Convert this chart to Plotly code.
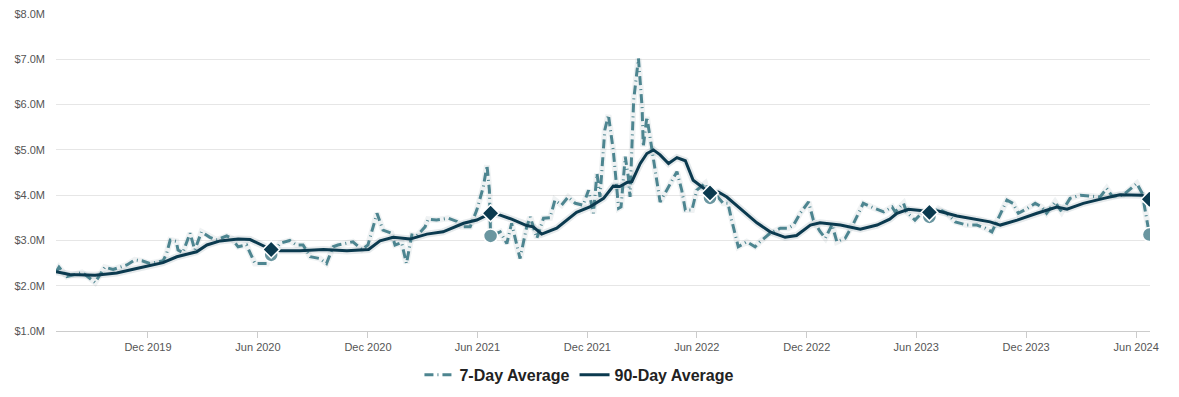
import plotly.graph_objects as go

# ---- data ----
d7_dates = [
    "2019-07-01", "2019-07-06", "2019-07-19", "2019-08-13", "2019-08-21", "2019-09-04",
    "2019-09-20", "2019-10-04", "2019-10-27", "2019-11-09", "2019-11-21", "2019-12-04",
    "2019-12-26", "2020-01-01", "2020-01-07", "2020-01-17", "2020-01-20", "2020-01-28",
    "2020-02-09", "2020-02-17", "2020-02-28", "2020-03-13", "2020-03-24", "2020-04-10",
    "2020-04-18", "2020-04-29", "2020-05-13", "2020-05-27", "2020-06-16", "2020-06-23",
    "2020-07-08", "2020-07-24", "2020-08-04", "2020-08-15", "2020-08-27", "2020-09-12",
    "2020-09-23", "2020-10-04", "2020-10-12", "2020-11-06", "2020-11-21", "2020-12-01",
    "2020-12-16", "2020-12-26", "2021-01-09", "2021-01-15", "2021-01-26", "2021-02-03",
    "2021-02-12", "2021-02-20", "2021-03-06", "2021-03-11", "2021-03-25", "2021-04-14",
    "2021-04-28", "2021-05-06", "2021-05-20", "2021-05-31", "2021-06-11", "2021-06-17",
    "2021-06-21", "2021-06-23", "2021-07-09", "2021-07-20", "2021-07-28", "2021-08-06",
    "2021-08-11", "2021-08-22", "2021-08-28", "2021-09-08", "2021-09-19", "2021-09-30",
    "2021-10-08", "2021-10-19", "2021-10-30", "2021-11-11", "2021-11-24", "2021-12-03",
    "2021-12-11", "2021-12-17", "2021-12-22", "2021-12-30", "2022-01-05", "2022-01-13",
    "2022-01-19", "2022-01-22", "2022-01-26", "2022-02-02", "2022-02-07", "2022-02-10",
    "2022-02-16", "2022-02-24", "2022-03-02", "2022-03-04", "2022-03-10", "2022-03-15",
    "2022-03-21", "2022-04-01", "2022-04-12", "2022-04-29", "2022-05-07", "2022-05-13",
    "2022-05-24", "2022-06-01", "2022-06-15", "2022-06-23", "2022-07-01", "2022-07-15",
    "2022-07-23", "2022-07-29", "2022-08-09", "2022-08-23", "2022-09-06", "2022-09-14",
    "2022-10-01", "2022-10-18", "2022-10-31", "2022-11-09", "2022-11-20", "2022-12-04",
    "2022-12-12", "2022-12-23", "2023-01-01", "2023-01-12", "2023-01-20", "2023-02-03",
    "2023-02-17", "2023-03-05", "2023-03-22", "2023-04-08", "2023-04-22", "2023-04-27",
    "2023-05-11", "2023-05-16", "2023-05-30", "2023-06-10", "2023-06-23", "2023-07-08",
    "2023-07-22", "2023-08-05", "2023-08-24", "2023-09-10", "2023-09-24", "2023-10-05",
    "2023-10-30", "2023-11-09", "2023-11-18", "2023-12-02", "2023-12-16", "2023-12-27",
    "2024-01-04", "2024-01-18", "2024-01-29", "2024-02-12", "2024-02-29", "2024-03-19",
    "2024-04-02", "2024-04-13", "2024-04-22", "2024-05-10", "2024-06-02", "2024-06-11",
    "2024-06-23",
]
d7_values = [
    2.30, 2.41, 2.20, 2.29, 2.22, 2.07,
    2.41, 2.36, 2.46, 2.57, 2.55, 2.49,
    2.55, 2.71, 3.01, 2.98, 2.79, 2.73,
    3.16, 2.79, 3.19, 3.07, 3.01, 3.10,
    3.05, 2.86, 2.90, 2.49, 2.49, 2.68,
    2.94, 3.00, 2.90, 2.90, 2.64, 2.60,
    2.49, 2.86, 2.90, 2.97, 2.80, 2.90,
    3.60, 3.23, 3.16, 2.90, 2.95, 2.49,
    3.12, 3.10, 3.30, 3.47, 3.45, 3.49,
    3.42, 3.30, 3.30, 3.67, 4.19, 4.66,
    4.11, 3.10, 3.19, 2.93, 3.38, 2.86,
    2.60, 3.30, 3.52, 3.05, 3.49, 3.50,
    3.89, 3.78, 3.96, 3.82, 3.78, 4.11,
    3.60, 4.48, 3.96, 5.44, 5.77, 5.00,
    4.11, 3.71, 3.74, 4.85, 4.41, 3.96,
    6.10, 7.02, 5.95, 5.07, 5.73, 5.29,
    4.77, 3.85, 4.11, 4.52, 4.11, 3.67,
    3.67, 4.11, 4.26, 3.94, 4.04, 3.82,
    3.82, 3.45, 2.86, 2.97, 2.86, 2.97,
    3.16, 3.27, 3.27, 3.34, 3.60, 3.85,
    3.45, 3.20, 3.05, 3.35, 2.97, 3.05,
    3.38, 3.82, 3.72, 3.63, 3.74, 3.63,
    3.82, 3.63, 3.45, 3.60, 3.52, 3.70,
    3.60, 3.41, 3.34, 3.34, 3.27, 3.19,
    3.89, 3.82, 3.60, 3.70, 3.82, 3.74,
    3.60, 3.85, 3.63, 3.93, 4.00, 3.98,
    3.96, 4.15, 3.98, 4.00, 4.26, 4.04,
    3.13,
]

d90_dates = [
    "2019-07-01", "2019-07-24", "2019-09-04", "2019-10-10", "2019-11-12", "2019-12-26",
    "2020-01-18", "2020-02-20", "2020-03-08", "2020-03-30", "2020-04-29", "2020-05-19",
    "2020-06-23", "2020-07-08", "2020-08-10", "2020-09-18", "2020-10-27", "2020-12-02",
    "2020-12-21", "2021-01-12", "2021-02-09", "2021-03-09", "2021-04-05", "2021-05-09",
    "2021-05-31", "2021-06-23", "2021-07-09", "2021-07-28", "2021-08-22", "2021-09-02",
    "2021-09-16", "2021-10-11", "2021-11-13", "2021-12-05", "2021-12-28", "2022-01-13",
    "2022-01-24", "2022-02-05", "2022-02-13", "2022-02-27", "2022-03-10", "2022-03-21",
    "2022-04-01", "2022-04-15", "2022-04-29", "2022-05-13", "2022-05-26", "2022-06-09",
    "2022-06-23", "2022-07-07", "2022-07-21", "2022-08-12", "2022-09-09", "2022-10-01",
    "2022-10-26", "2022-11-14", "2022-12-07", "2022-12-23", "2023-01-26", "2023-02-28",
    "2023-03-28", "2023-04-18", "2023-04-30", "2023-05-19", "2023-06-08", "2023-06-23",
    "2023-07-08", "2023-08-08", "2023-09-15", "2023-10-02", "2023-10-19", "2023-11-16",
    "2023-12-19", "2024-01-21", "2024-02-07", "2024-03-05", "2024-04-08", "2024-05-05",
    "2024-06-11", "2024-06-23",
]
d90_values = [
    2.31, 2.25, 2.23, 2.28, 2.38, 2.51,
    2.64, 2.75, 2.90, 2.99, 3.03, 3.02,
    2.80, 2.77, 2.77, 2.80, 2.77, 2.80,
    2.99, 3.07, 3.03, 3.14, 3.19, 3.38,
    3.45, 3.60, 3.56, 3.47, 3.33, 3.30,
    3.14, 3.27, 3.62, 3.74, 3.93, 4.20,
    4.19, 4.28, 4.30, 4.70, 4.92, 5.00,
    4.89, 4.70, 4.83, 4.76, 4.33, 4.19,
    4.05, 4.07, 3.96, 3.71, 3.39, 3.19,
    3.07, 3.11, 3.34, 3.39, 3.34, 3.25,
    3.34, 3.47, 3.60, 3.69, 3.66, 3.62,
    3.65, 3.54, 3.45, 3.41, 3.34, 3.45,
    3.60, 3.74, 3.69, 3.82, 3.93, 4.01,
    4.00, 3.91,
]

marker_dates = ["2020-06-23", "2021-06-23", "2022-06-23", "2023-06-23", "2024-06-23"]

tick_dates = ["2019-12-01", "2020-06-01", "2020-12-01", "2021-06-01", "2021-12-01",
              "2022-06-01", "2022-12-01", "2023-06-01", "2023-12-01", "2024-06-01"]
tick_labels = ["Dec 2019", "Jun 2020", "Dec 2020", "Jun 2021", "Dec 2021",
               "Jun 2022", "Dec 2022", "Jun 2023", "Dec 2023", "Jun 2024"]

# ---- styles ----
C7 = "#4d8590"
C7_MARK = "#6a96a0"
C90 = "#0b3a4f"
FONT = "Liberation Sans, Arial, sans-serif"

m7_vals = [d7_values[d7_dates.index(d)] for d in marker_dates]
m90_vals = [d90_values[d90_dates.index(d)] for d in marker_dates]

fig = go.Figure()

# soft shadows
fig.add_trace(go.Scatter(x=d7_dates, y=d7_values, mode="lines", hoverinfo="skip",
                         line=dict(color="rgba(30,70,80,0.07)", width=6),
                         showlegend=False))
fig.add_trace(go.Scatter(x=d90_dates, y=d90_values, mode="lines", hoverinfo="skip",
                         line=dict(color="rgba(10,50,70,0.10)", width=7),
                         showlegend=False))

fig.add_trace(go.Scatter(x=d7_dates, y=d7_values, mode="lines", name="7-Day Average",
                         line=dict(color=C7, width=3, dash="9px,4px,1px,4px")))
fig.add_trace(go.Scatter(x=d90_dates, y=d90_values, mode="lines", name="90-Day Average",
                         line=dict(color=C90, width=3)))

fig.add_trace(go.Scatter(x=marker_dates, y=m7_vals, mode="markers", showlegend=False,
                         marker=dict(symbol="circle", size=14, color=C7_MARK,
                                     line=dict(color="white", width=1.5))))
fig.add_trace(go.Scatter(x=marker_dates, y=m90_vals, mode="markers", showlegend=False,
                         marker=dict(symbol="diamond", size=13, color=C90,
                                     line=dict(color="white", width=1.5))))

# page body has an 8px margin, so the figure is sized/offset to compensate
fig.update_layout(
    width=1171, height=389,
    margin=dict(l=48, r=29, t=6, b=66, autoexpand=False),
    paper_bgcolor="white", plot_bgcolor="white",
    font=dict(family=FONT, size=11, color="#555555"),
    showlegend=True,
    legend=dict(orientation="h", xref="container", yref="container",
                x=0.488, xanchor="center", y=0.057, yanchor="middle",
                font=dict(family=FONT, size=16, color="#222222", weight="bold"),
                itemwidth=30, traceorder="normal"),
    xaxis=dict(type="date", range=["2019-07-01", "2024-06-24"],
               tickvals=tick_dates, ticktext=tick_labels, automargin=False,
               showgrid=False, showline=True, linecolor="#cccccc", linewidth=1,
               ticks="outside", ticklen=6, tickcolor="#cccccc",
               tickfont=dict(family=FONT, size=11, color="#555555"),
               zeroline=False),
    yaxis=dict(range=[1, 8.002], dtick=1, tick0=1, tickprefix="$", ticksuffix="M",
               tickformat=".1f", showgrid=True, gridcolor="#e6e6e6", gridwidth=1,
               zeroline=False, showline=False, ticks="", automargin=False,
               ticklabelstandoff=10, ticklabeloverflow="allow",
               tickfont=dict(family=FONT, size=11, color="#555555")),
)

fig.write_html("out.html")
